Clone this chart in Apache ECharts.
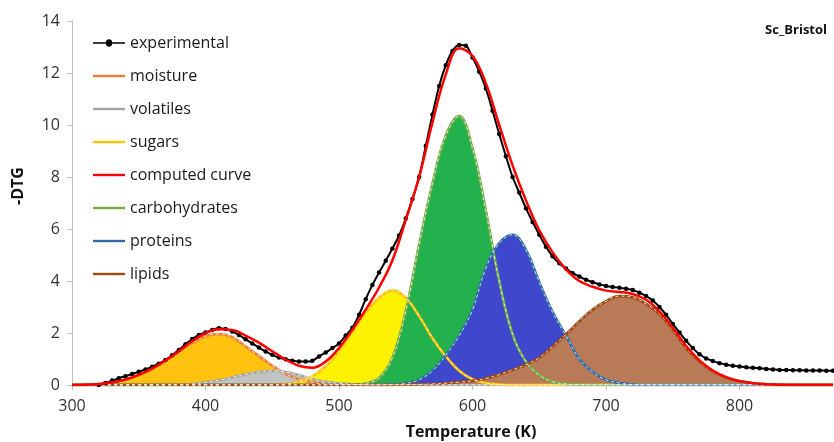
<!DOCTYPE html>
<html>
<head>
<meta charset="utf-8">
<script src="https://cdn.jsdelivr.net/npm/echarts@6/dist/echarts.min.js"></script>
<style>
html,body{margin:0;padding:0;background:#fff;}
#chart{width:834px;height:442px;}
</style>
</head>
<body>
<div id="chart"></div>
<script>
// Temperature grid (K) for the fitted components and computed curve
const temps = [300,310,320,330,340,350,360,370,380,390,400,410,420,430,440,450,460,470,480,490,500,510,520,530,540,550,560,570,580,590,600,610,620,630,640,650,660,670,680,690,700,710,720,730,740,750,760,770,780,790,800,810,820,830,840,850,860,870];

const moisture = [0,0.01,0.03,0.1,0.2,0.38,0.62,0.93,1.28,1.62,1.88,1.96,1.84,1.48,1.12,0.74,0.43,0.22,0.1,0.04,0.02,0.01,0,0,0,0,0,0,0,0,0,0,0,0,0,0,0,0,0,0,0,0,0,0,0,0,0,0,0,0,0,0,0,0,0,0,0,0];
const volatiles = [0,0,0,0,0,0,0,0,0.01,0.04,0.1,0.18,0.29,0.41,0.5,0.55,0.5,0.38,0.22,0.12,0.06,0.03,0.01,0,0,0,0,0,0,0,0,0,0,0,0,0,0,0,0,0,0,0,0,0,0,0,0,0,0,0,0,0,0,0,0,0,0,0];
const sugars = [0,0,0,0,0,0,0,0,0,0,0,0,0,0,0,0.01,0.04,0.12,0.33,0.72,1.32,2.05,2.8,3.35,3.64,3.35,2.65,1.8,1.1,0.55,0.22,0.08,0.02,0,0,0,0,0,0,0,0,0,0,0,0,0,0,0,0,0,0,0,0,0,0,0,0,0];
const carbohydrates = [0,0,0,0,0,0,0,0,0,0,0,0,0,0,0,0,0,0,0,0,0,0.01,0.06,0.27,1.05,2.85,5.4,7.75,9.6,10.34,9.1,6.7,4.0,1.95,0.9,0.38,0.13,0.04,0.01,0,0,0,0,0,0,0,0,0,0,0,0,0,0,0,0,0,0,0];
const proteins = [0,0,0,0,0,0,0,0,0,0,0,0,0,0,0,0,0,0,0,0,0,0,0,0,0.02,0.06,0.2,0.55,1.15,1.9,2.9,4.5,5.45,5.78,5.2,3.95,2.8,1.9,1.0,0.5,0.2,0.08,0.02,0,0,0,0,0,0,0,0,0,0,0,0,0,0,0];
const lipids = [0,0,0,0,0,0,0,0,0,0,0,0,0,0,0,0,0,0,0,0,0,0,0,0,0,0.01,0.02,0.04,0.07,0.11,0.16,0.25,0.4,0.58,0.78,1.05,1.48,1.95,2.45,2.9,3.22,3.42,3.37,3.12,2.73,2.12,1.42,0.9,0.52,0.28,0.15,0.07,0.03,0.01,0,0,0,0];
const computed = [0,0.01,0.04,0.1,0.21,0.39,0.63,0.94,1.3,1.68,1.99,2.14,2.12,1.9,1.63,1.3,0.98,0.74,0.66,0.9,1.42,2.12,2.9,3.75,4.8,6.35,8.0,10.1,11.95,12.95,12.65,11.6,10.0,8.45,7.1,5.95,5.1,4.45,4.0,3.78,3.63,3.58,3.5,3.28,2.83,2.2,1.5,0.95,0.56,0.3,0.15,0.07,0.03,0.01,0,0,0,0];

// Experimental -DTG points
const expTemps = [320,325,330,335,340,345,350,355,360,365,370,375,380,385,390,395,400,405,410,415,420,425,430,435,440,445,450,455,460,465,470,475,480,485,490,495,500,505,510,515,520,525,530,535,540,545,550,555,560,565,570,575,580,585,590,595,600,605,610,615,620,625,630,635,640,645,650,655,660,665,670,675,680,685,690,695,700,705,710,715,720,725,730,735,740,745,750,755,760,765,770,775,780,785,790,795,800,805,810,815,820,825,830,835,840,845,850,855,860,865,870];
const experimental = [0,0.08,0.17,0.26,0.34,0.42,0.51,0.6,0.7,0.82,0.96,1.14,1.35,1.57,1.77,1.92,2.02,2.12,2.18,2.15,2.06,1.92,1.76,1.6,1.44,1.29,1.16,1.06,0.99,0.93,0.9,0.9,0.93,1.1,1.25,1.42,1.6,1.9,2.2,2.7,3.3,3.85,4.33,4.78,5.25,5.75,6.4,7.15,8.0,9.2,10.4,11.5,12.3,12.85,13.08,13.05,12.6,12.05,11.4,10.55,9.65,8.8,8.0,7.4,6.8,6.27,5.78,5.32,4.95,4.68,4.48,4.3,4.17,4.05,3.95,3.87,3.81,3.77,3.74,3.7,3.65,3.55,3.42,3.25,3.0,2.7,2.35,2.02,1.7,1.42,1.18,1.02,0.92,0.84,0.78,0.74,0.71,0.68,0.66,0.64,0.62,0.6,0.58,0.58,0.57,0.57,0.56,0.56,0.56,0.55,0.55];

const xTicks = [300,400,500,600,700,800];
const yTicks = [0,2,4,6,8,10,12,14];
const legendNames = ['experimental','moisture','volatiles','sugars','computed curve','carbohydrates','proteins','lipids'];

const FONT = '"Open Sans", "Noto Sans", sans-serif';
const pairs = (xs, ys) => xs.map((x, i) => [x, ys[i]]);

const comps = [
  {name:'moisture', data:moisture, fill:'#FFC20E', line:'#ED7D31'},
  {name:'volatiles', data:volatiles, fill:'#C3C3C3', line:'#A5A5A5'},
  {name:'sugars', data:sugars, fill:'#FFF200', line:'#FFC000'},
  {name:'carbohydrates', data:carbohydrates, fill:'#22B14C', line:'#70AD47'},
  {name:'proteins', data:proteins, fill:'#3F48CC', line:'#2E6BA8'},
  {name:'lipids', data:lipids, fill:'#B97A57', line:'#9E480E'}
];

const series = [];
comps.forEach(c => series.push({
  type:'line', name:c.name+'_fill', data:pairs(temps, c.data), smooth:0.4,
  symbol:'none', silent:true, z:1,
  lineStyle:{width:0}, areaStyle:{color:c.fill, opacity:1}
}));
const lineOf = {};
comps.forEach(c => { lineOf[c.name] = {
  type:'line', name:c.name, data:pairs(temps, c.data), smooth:0.4,
  symbol:'none', z:2, itemStyle:{color:c.line},
  lineStyle:{color:c.line, width:2.6}
}; });
comps.forEach(c => series.push({
  type:'line', name:c.name+'_dash', data:pairs(temps, c.data), smooth:0.4,
  symbol:'none', silent:true, z:3,
  lineStyle:{color:'#ffffff', width:0.8, type:[3,3]}
}));

const expSeries = {
  type:'line', name:'experimental', data:pairs(expTemps, experimental), smooth:0.3,
  symbol:'circle', symbolSize:4.5, showSymbol:true, z:4,
  itemStyle:{color:'#000'}, lineStyle:{color:'#000', width:2}
};
const compSeries = {
  type:'line', name:'computed curve', data:pairs(temps, computed), smooth:0.4,
  symbol:'none', z:5, itemStyle:{color:'#FF0000'},
  lineStyle:{color:'#FF0000', width:2.5}
};

legendNames.forEach(n => {
  if (n === 'experimental') series.push(expSeries);
  else if (n === 'computed curve') series.push(compSeries);
  else series.push(lineOf[n]);
});

const LINE_ICON = 'path://M0,0 L32,0 L32,2.4 L0,2.4 Z';
const DOT_ICON = 'path://M0,2.8 L13,2.8 A3,3 0 0 1 19,2.8 L32,2.8 L32,4.2 L19,4.2 A3,3 0 0 1 13,4.2 L0,4.2 Z';

const chart = echarts.init(document.getElementById('chart'), null, {renderer:'canvas'});
chart.setOption({
  animation:false,
  backgroundColor:'#fff',
  textStyle:{fontFamily:FONT},
  title:{
    text:'Sc_Bristol', right:2, top:19,
    textStyle:{fontFamily:FONT, fontSize:13, fontWeight:'bold', color:'#111'}
  },
  grid:{left:72, right:1, top:21, bottom:57, containLabel:false},
  legend:{
    data:legendNames.map(n => ({name:n, icon: n === 'experimental' ? DOT_ICON : LINE_ICON})),
    orient:'vertical', left:88, top:30,
    itemWidth:32, itemHeight:16, itemGap:17,
    symbolKeepAspect:true,
    textStyle:{fontFamily:FONT, fontSize:16, color:'#1a1a1a', lineHeight:16},
    selectedMode:false
  },
  xAxis:{
    type:'value', min:xTicks[0], max:870, interval:100,
    axisLine:{show:true, lineStyle:{color:'#BFBFBF', width:1}},
    axisTick:{show:true, length:5, lineStyle:{color:'#BFBFBF'}, customValues:xTicks},
    axisLabel:{margin:13, fontFamily:FONT, fontSize:16, color:'#333', customValues:xTicks},
    splitLine:{show:false}
  },
  yAxis:{
    type:'value', min:yTicks[0], max:yTicks[yTicks.length-1], interval:2,
    axisLine:{show:true, lineStyle:{color:'#BFBFBF', width:1}},
    axisTick:{show:true, length:5, lineStyle:{color:'#BFBFBF'}},
    axisLabel:{margin:12, fontFamily:FONT, fontSize:16, color:'#333'},
    splitLine:{show:false}
  },
  graphic:[
    {type:'text', x:18, y:186, rotation:Math.PI/2,
      style:{text:'-DTG', fontFamily:FONT, fontSize:16, fontWeight:'bold', fill:'#111',
        textAlign:'center', textVerticalAlign:'middle'}},
    {type:'text', x:471, y:432,
      style:{text:'Temperature (K)', fontFamily:FONT, fontSize:16, fontWeight:'bold', fill:'#111',
        textAlign:'center', textVerticalAlign:'middle'}}
  ],
  series:series
});
</script>
</body>
</html>
